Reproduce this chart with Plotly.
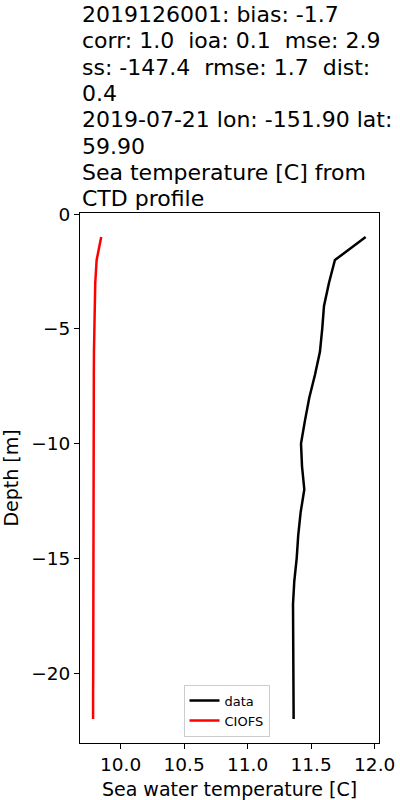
import plotly.graph_objects as go

depth = [-1, -2, -3, -4, -5, -6, -7, -8, -9, -10, -11, -12, -13, -14, -15, -16, -17, -18, -19, -20, -21, -22]
data_temp = [11.929, 11.687, 11.640, 11.601, 11.587, 11.569, 11.530, 11.485, 11.451, 11.420, 11.428,
             11.446, 11.417, 11.398, 11.386, 11.367, 11.357, 11.359, 11.361, 11.362, 11.362, 11.362]
ciofs_temp = [9.847, 9.811, 9.800, 9.795, 9.792, 9.790, 9.789, 9.789, 9.788, 9.788, 9.787,
              9.787, 9.786, 9.786, 9.786, 9.785, 9.785, 9.785, 9.784, 9.784, 9.783, 9.783]

title_lines = [
    "2019126001: bias: -1.7",
    "corr: 1.0  ioa: 0.1  mse: 2.9",
    "ss: -147.4  rmse: 1.7  dist:",
    "0.4",
    "2019-07-21 lon: -151.90 lat:",
    "59.90",
    "Sea temperature [C] from",
    "CTD profile",
]
x_ticks = [10.0, 10.5, 11.0, 11.5, 12.0]
y_ticks = [0, -5, -10, -15, -20]

FONT = "DejaVu Sans"

fig = go.Figure()
fig.add_trace(go.Scatter(x=data_temp, y=depth, mode="lines", name="data",
                         line=dict(color="black", width=2.5)))
fig.add_trace(go.Scatter(x=ciofs_temp, y=depth, mode="lines", name="CIOFS",
                         line=dict(color="red", width=2.5)))

W, H = 400, 800
ml, mr, mt, mb = 80, 21, 213, 57
ph = H - mt - mb

annotations = []
for i, line in enumerate(title_lines):
    baseline = 22.0 + i * 26.35
    center_px = baseline - 7.5
    y_paper = 1 + (mt - center_px) / ph
    annotations.append(dict(text=line, xref="paper", yref="paper", x=0, y=y_paper,
                            xanchor="left", yanchor="middle", showarrow=False,
                            align="left", font=dict(family=FONT, size=22, color="black")))

fig.update_layout(
    width=W, height=H,
    margin=dict(l=ml, r=mr, t=mt, b=mb, autoexpand=False),
    paper_bgcolor="white", plot_bgcolor="white",
    font=dict(family=FONT, color="black"),
    annotations=annotations,
    showlegend=True,
    legend=dict(x=0.49, y=0.012, xanchor="center", yanchor="bottom",
                bgcolor="rgba(255,255,255,0.8)", bordercolor="#cccccc", borderwidth=1,
                font=dict(family=FONT, size=13, color="black"), itemwidth=30,
                tracegroupgap=0),
    xaxis=dict(range=[9.68, 12.034], tickvals=x_ticks, ticktext=[f"{v:.1f}" for v in x_ticks],
               showgrid=False, zeroline=False, showline=True, linecolor="black", linewidth=1,
               mirror=True, ticks="outside", ticklen=5, tickcolor="black", automargin=False,
               tickfont=dict(family=FONT, size=18.5),
               title=dict(text="Sea water temperature [C]", font=dict(family=FONT, size=19), standoff=12)),
    yaxis=dict(range=[-23.05, 0.05], tickvals=y_ticks,
               showgrid=False, zeroline=False, showline=True, linecolor="black", linewidth=1,
               mirror=True, ticks="outside", ticklen=5, tickcolor="black", automargin=False,
               tickfont=dict(family=FONT, size=18.5),
               title=dict(text="Depth [m]", font=dict(family=FONT, size=19), standoff=7)),
)

fig.write_html("out.html", config={"displayModeBar": False},
               post_script="document.body.style.margin='0';document.body.style.overflow='hidden';")
